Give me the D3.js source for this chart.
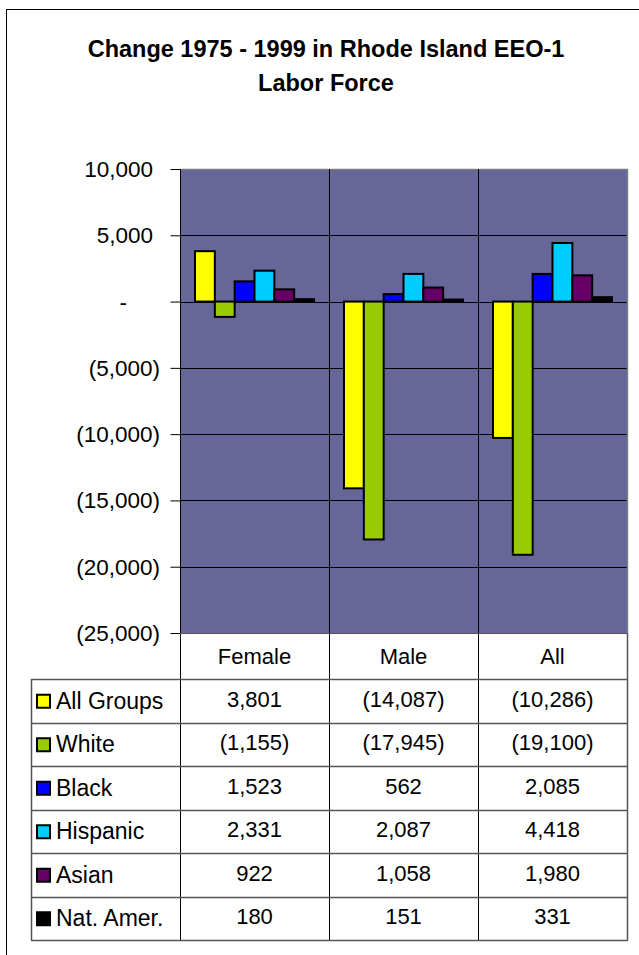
<!DOCTYPE html>
<html>
<head>
<meta charset="utf-8">
<script src="https://cdn.jsdelivr.net/npm/d3@7"></script>
<style>
  html, body { margin: 0; padding: 0; background: #fff; }
  svg { display: block; }
  text { font-family: "Liberation Sans", Arial, sans-serif; fill: #000; }
</style>
</head>
<body>
<div id="chart"></div>
<script>
// ---- data ----
const categories = ["Female", "Male", "All"];
const seriesNames = ["All Groups", "White", "Black", "Hispanic", "Asian", "Nat. Amer."];
const allGroups = [3801, -14087, -10286];
const white = [-1155, -17945, -19100];
const black = [1523, 562, 2085];
const hispanic = [2331, 2087, 4418];
const asian = [922, 1058, 1980];
const natAmer = [180, 151, 331];
const seriesColors = ["#FFFF00", "#99CC00", "#0000FF", "#00CCFF", "#660066", "#000000"];
const yTicks = [10000, 5000, 0, -5000, -10000, -15000, -20000, -25000];
const titleLines = ["Change 1975 - 1999 in Rhode Island EEO-1", "Labor Force"];

const seriesValues = [allGroups, white, black, hispanic, asian, natAmer];

// ---- layout ----
const W = 639, H = 955;
const plot = { left: 180, right: 627, top: 169, bottom: 633 };
const headerBottom = 679;
const tableLeft = 31;
const tableBottom = 940;

const svg = d3.select("#chart").append("svg").attr("width", W).attr("height", H);
svg.append("rect").attr("width", W).attr("height", H).attr("fill", "#fff");

// outer border
svg.append("rect").attr("x", 6.5).attr("y", 9.5).attr("width", W + 10).attr("height", H + 10)
  .attr("fill", "none").attr("stroke", "#000").attr("stroke-width", 1);

// title
svg.append("g").selectAll("text").data(titleLines).join("text")
  .attr("x", 326).attr("y", (d, i) => 57 + i * 34)
  .attr("text-anchor", "middle").attr("font-weight", "bold").attr("font-size", 23.5)
  .text(d => d);

// scales
const y = d3.scaleLinear().domain([-25000, 10000]).range([plot.bottom, plot.top]);
const x0 = d3.scaleBand().domain(categories).range([plot.left, plot.right]).padding(0);
const x1 = d3.scaleBand().domain(seriesNames).range([15, x0.bandwidth() - 15]).padding(0);

const fmtNum = d3.format(",");
const fmt = v => v > 0 ? fmtNum(v) : v < 0 ? "(" + fmtNum(-v) + ")" : "-";

// plot background
svg.append("rect").attr("x", plot.left).attr("y", plot.top)
  .attr("width", plot.right - plot.left).attr("height", plot.bottom - plot.top)
  .attr("fill", "#666699");

// horizontal gridlines
svg.append("g").selectAll("line").data(yTicks.filter(t => t !== 10000 && t !== -25000)).join("line")
  .attr("x1", plot.left).attr("x2", plot.right)
  .attr("y1", d => Math.round(y(d)) + 0.5).attr("y2", d => Math.round(y(d)) + 0.5)
  .attr("stroke", "#000").attr("stroke-width", 1);

// plot top/right border (gray)
svg.append("path")
  .attr("d", `M${plot.left},${plot.top + 0.5}H${plot.right + 0.5}V${plot.bottom}`)
  .attr("fill", "none").attr("stroke", "#808080").attr("stroke-width", 1.5);

// vertical category separators (through plot and header row)
svg.append("g").selectAll("line").data(categories.slice(1)).join("line")
  .attr("x1", d => Math.round(x0(d)) + 0.5).attr("x2", d => Math.round(x0(d)) + 0.5)
  .attr("y1", plot.top).attr("y2", tableBottom)
  .attr("stroke", "#000").attr("stroke-width", 1);

// bars
const barData = [];
categories.forEach((c, ci) => {
  seriesNames.forEach((s, si) => {
    barData.push({ cat: c, series: s, value: seriesValues[si][ci], color: seriesColors[si] });
  });
});
svg.append("g").selectAll("rect").data(barData).join("rect")
  .attr("x", d => x0(d.cat) + x1(d.series))
  .attr("width", x1.bandwidth())
  .attr("y", d => y(Math.max(0, d.value)))
  .attr("height", d => Math.abs(y(d.value) - y(0)))
  .attr("fill", d => d.color)
  .attr("stroke", "#000").attr("stroke-width", 2);

// y axis
const axis = d3.axisLeft(y).tickValues(yTicks).tickSize(10).tickFormat("");
const axG = svg.append("g").attr("transform", `translate(${plot.left + 0.5},0)`).call(axis);
axG.select(".domain").remove();
axG.selectAll(".tick line").attr("stroke", "#000");
svg.append("line").attr("x1", plot.left + 0.5).attr("x2", plot.left + 0.5)
  .attr("y1", plot.top).attr("y2", tableBottom).attr("stroke", "#000");

svg.append("g").selectAll("text").data(yTicks).join("text")
  .attr("x", d => d > 0 ? 153 : d < 0 ? 160 : 127)
  .attr("y", d => y(d) + 8)
  .attr("text-anchor", "end").attr("font-size", 22.5)
  .text(d => fmt(d));

// plot bottom line / header top
svg.append("line").attr("x1", plot.left).attr("x2", plot.right + 1)
  .attr("y1", plot.bottom + 0.5).attr("y2", plot.bottom + 0.5).attr("stroke", "#555");

// header row: category labels
svg.append("g").selectAll("text").data(categories).join("text")
  .attr("x", d => x0(d) + x0.bandwidth() / 2)
  .attr("y", (plot.bottom + headerBottom) / 2 + 8)
  .attr("text-anchor", "middle").attr("font-size", 22)
  .text(d => d);

// table grid
const rowH = (tableBottom - headerBottom) / seriesNames.length;
const rowY = i => headerBottom + i * rowH;
svg.append("g").selectAll("line").data(d3.range(seriesNames.length + 1)).join("line")
  .attr("x1", tableLeft).attr("x2", plot.right + 1)
  .attr("y1", i => Math.round(rowY(i)) + 0.5).attr("y2", i => Math.round(rowY(i)) + 0.5)
  .attr("stroke", "#555").attr("stroke-width", 1.5);
svg.append("line").attr("x1", tableLeft + 0.5).attr("x2", tableLeft + 0.5)
  .attr("y1", headerBottom).attr("y2", tableBottom).attr("stroke", "#555").attr("stroke-width", 1.5);
svg.append("line").attr("x1", plot.right + 0.5).attr("x2", plot.right + 0.5)
  .attr("y1", plot.bottom).attr("y2", tableBottom).attr("stroke", "#555").attr("stroke-width", 1.5);

// legend keys + names
const rows = svg.append("g").selectAll("g").data(seriesNames).join("g");
rows.append("rect")
  .attr("x", 37).attr("y", (d, i) => rowY(i) + rowH / 2 - 6)
  .attr("width", 13).attr("height", 13)
  .attr("fill", (d, i) => seriesColors[i]).attr("stroke", "#000").attr("stroke-width", 2);
rows.append("text")
  .attr("x", 56).attr("y", (d, i) => rowY(i) + rowH / 2 + 8)
  .attr("font-size", 23).text(d => d);

// values
rows.each(function(s, si) {
  d3.select(this).selectAll("text.val").data(categories).join("text")
    .attr("class", "val")
    .attr("x", c => x0(c) + x0.bandwidth() / 2)
    .attr("y", rowY(si) + rowH / 2 + 6)
    .attr("text-anchor", "middle").attr("font-size", 22)
    .text((c, ci) => fmt(seriesValues[si][ci]));
});
</script>
</body>
</html>
